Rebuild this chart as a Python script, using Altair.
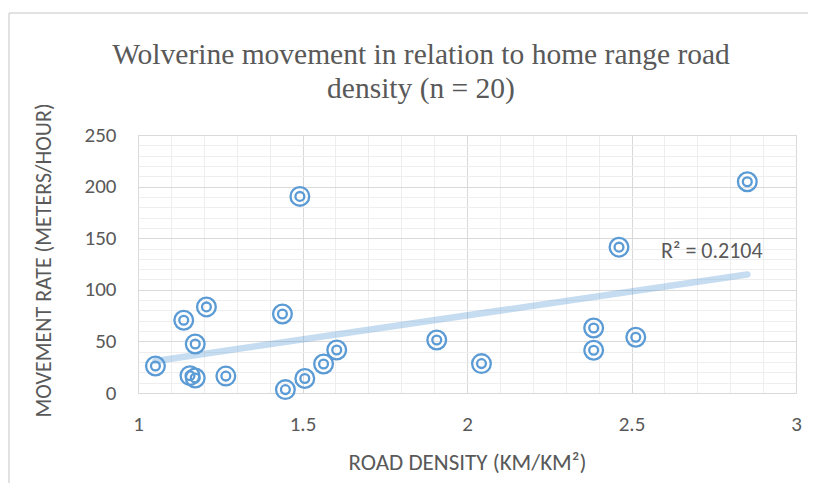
import altair as alt
import pandas as pd

# Data
road_density = [1.053, 1.139, 1.208, 1.174, 1.158, 1.174, 1.267, 1.439, 1.492, 1.448,
                1.507, 1.564, 1.604, 1.908, 2.044, 2.385, 2.385, 2.462, 2.513, 2.852]
movement_rate = [26.2, 70.5, 83.4, 47.5, 16.8, 14.5, 16.4, 76.6, 190.5, 3.3,
                 14.0, 28.1, 41.7, 51.4, 28.5, 63.0, 41.4, 141.3, 54.0, 204.7]

x_grid_values = [1.0, 1.1, 1.2, 1.3, 1.4, 1.5, 1.6, 1.7, 1.8, 1.9, 2.0,
                 2.1, 2.2, 2.3, 2.4, 2.5, 2.6, 2.7, 2.8, 2.9, 3.0]
y_grid_values = [0, 10, 20, 30, 40, 50, 60, 70, 80, 90, 100, 110, 120, 130, 140,
                 150, 160, 170, 180, 190, 200, 210, 220, 230, 240, 250]

title_line1 = ["Wolverine movement in relation to home range road"]
title_line2 = ["density (n = 20)"]
x_title = "ROAD DENSITY (KM/KM²)"
y_title = "MOVEMENT RATE (METERS/HOUR)"
r2_label = ["R² = 0.2104"]
r2_x = [2.59]
r2_y = [138]

df = pd.DataFrame({"x": road_density, "y": movement_rate})
lbl = pd.DataFrame({"x": r2_x, "y": r2_y, "t": r2_label})
t1 = pd.DataFrame({"t": title_line1})
t2 = pd.DataFrame({"t": title_line2})
one = pd.DataFrame({"a": [0]})

BLUE = "#5B9BD5"
GREY = "#595959"
MAJOR = "#d9d9d9"
MINOR = "#eeeeee"
SANS = "Calibri, Carlito, Lato, sans-serif"
SERIF = "Times New Roman, Liberation Serif, serif"

W, H = 658, 258

xscale = alt.Scale(domain=[1, 3], nice=False, zero=False)
yscale = alt.Scale(domain=[0, 250], nice=False, zero=False)

xaxis = alt.Axis(
    values=x_grid_values,
    labelExpr="abs(round(datum.value*10) % 5) == 0 ? toString(round(datum.value*10)/10) : ''",
    grid=True,
    gridColor={"condition": {"test": "abs(round(datum.value*10) % 5) == 0", "value": MAJOR}, "value": MINOR},
    gridWidth=1,
    ticks=False, domain=False,
    labelFont=SANS, labelFontSize=21, labelColor=GREY, labelPadding=20,
    labelFlush=False, labelOverlap=False,
    title=x_title, titleFont=SANS, titleFontSize=23, titleFontWeight="normal",
    titleColor=GREY, titleX=W / 2, titleY=69, titleBaseline="middle", titleAlign="center",
)
yaxis = alt.Axis(
    values=y_grid_values,
    labelExpr="round(datum.value) % 50 == 0 ? toString(round(datum.value)) : ''",
    grid=True,
    gridColor={"condition": {"test": "round(datum.value) % 50 == 0", "value": MAJOR}, "value": MINOR},
    gridWidth=1,
    ticks=False, domain=False,
    labelFont=SANS, labelFontSize=21, labelColor=GREY, labelPadding=22,
    labelFlush=False, labelOverlap=False,
    title=y_title, titleFont=SANS, titleFontSize=22, titleFontWeight="normal",
    titleColor=GREY, titleX=-95, titleY=125, titleAngle=270,
    titleBaseline="middle", titleAlign="center",
)

X = alt.X("x:Q", scale=xscale, axis=xaxis)
Y = alt.Y("y:Q", scale=yscale, axis=yaxis)

# outer chart-area frame (only top and left edges are visible in the reference)
frame_top = alt.Chart(one).mark_rule(color=MAJOR, strokeWidth=1.5).encode(
    x=alt.value(-129), x2=alt.value(W + 300), y=alt.value(-122)
)
frame_left = alt.Chart(one).mark_rule(color=MAJOR, strokeWidth=1.5).encode(
    x=alt.value(-129), y=alt.value(-122), y2=alt.value(H + 300)
)

trend = alt.Chart(df).transform_regression("x", "y").mark_line(
    color=BLUE, strokeWidth=6.5, opacity=0.35, strokeCap="round"
).encode(x=X, y=Y)

outer = alt.Chart(df).mark_point(
    shape="circle", size=350, strokeWidth=2.3, color=BLUE, filled=False, opacity=1
).encode(x=X, y=Y)

inner = alt.Chart(df).mark_point(
    shape="circle", size=78, strokeWidth=2.3, color=BLUE, filled=False, opacity=1
).encode(x=X, y=Y)

r2 = alt.Chart(lbl).mark_text(
    align="left", baseline="middle", font=SANS, fontSize=22, color=GREY
).encode(x=X, y=Y, text="t:N")

title1 = alt.Chart(t1).mark_text(
    align="center", baseline="middle", font=SERIF, fontSize=29.5, color=GREY
).encode(x=alt.value(283), y=alt.value(-80), text="t:N")

title2 = alt.Chart(t2).mark_text(
    align="center", baseline="middle", font=SERIF, fontSize=29.5, color=GREY
).encode(x=alt.value(283), y=alt.value(-46), text="t:N")

chart = alt.layer(frame_top, frame_left, trend, outer, inner, r2, title1, title2).properties(
    width=W, height=H,
    autosize=alt.AutoSizeParams(type="none"),
    padding={"left": 130, "top": 127, "right": 12, "bottom": 90},
).configure_view(stroke="transparent").configure(background="white")

chart.save("out.html", embed_options={"renderer": "svg", "actions": False})
